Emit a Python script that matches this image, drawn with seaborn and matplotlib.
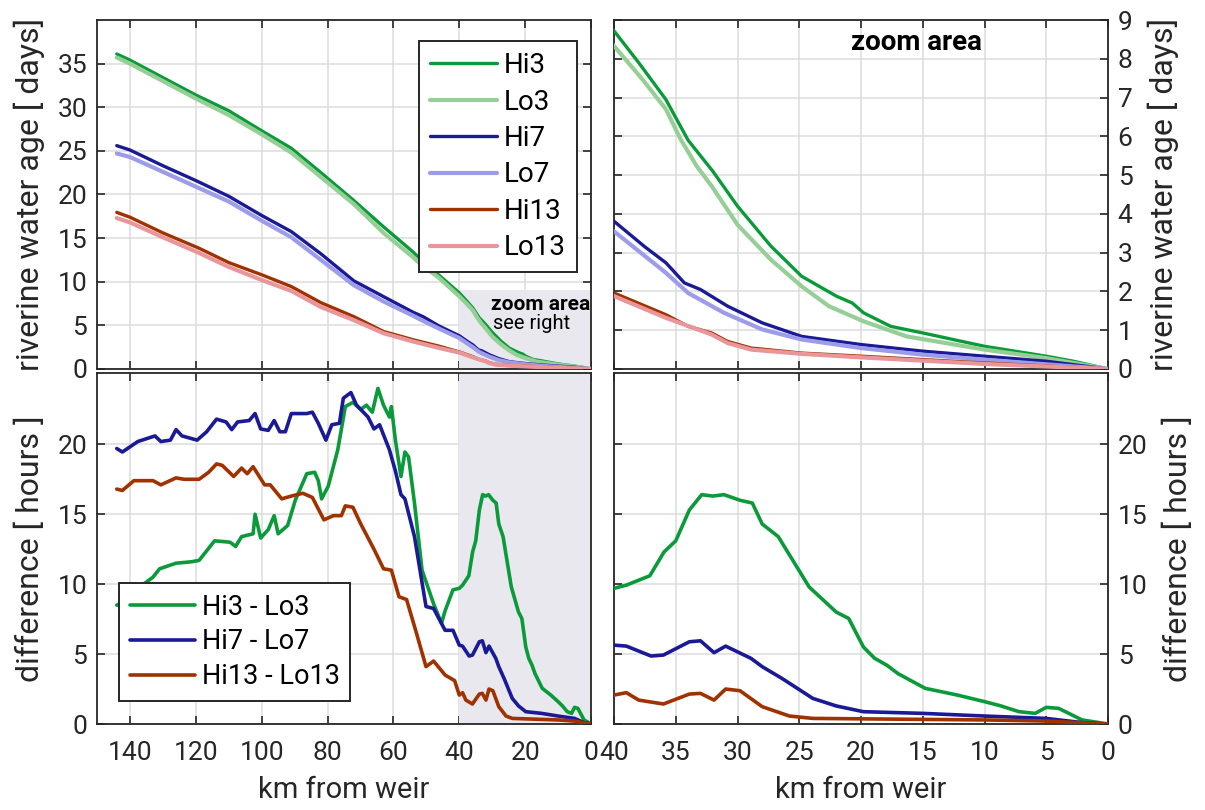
import numpy as np
import pandas as pd
import matplotlib
matplotlib.use("Agg")
import matplotlib.pyplot as plt
import seaborn as sns

# ---------------- data ----------------
# riverine water age [days] vs km from weir
hi3_km = [144, 140, 130, 120, 110, 100, 91, 82, 72, 63, 54, 51, 46, 40, 38, 35.8, 34, 32, 30, 27.3, 24.8, 22, 20.7, 19.8, 17.6, 15, 10, 5, 2.8, 0]
hi3_age = [36.1, 35.4, 33.4, 31.4, 29.6, 27.3, 25.3, 22.5, 19.3, 16.3, 13.4, 12.3, 10.7, 8.72, 7.9, 6.95, 5.9, 5.1, 4.2, 3.17, 2.39, 1.88, 1.70, 1.45, 1.10, 0.93, 0.585, 0.33, 0.2, 0.0]

lo3_km = [144, 140, 130, 120, 110, 100, 91, 82, 72, 63, 54, 52, 46, 40, 37.7, 35.8, 34.6, 33.3, 32.1, 30, 27.3, 24.8, 22.6, 19.8, 16.3, 10, 5, 0]
lo3_age = [35.7, 35.0, 33.0, 31.0, 29.1, 26.9, 24.8, 22.0, 18.9, 15.6, 12.8, 12.1, 10.4, 8.33, 7.47, 6.7, 5.92, 5.23, 4.72, 3.72, 2.82, 2.13, 1.62, 1.23, 0.84, 0.5, 0.28, 0.0]

hi7_km = [144, 140, 130, 120, 110, 100, 91, 82, 72, 63, 54, 51, 46, 40, 37.5, 35.8, 34.3, 33, 30.8, 28, 24.8, 20, 15, 10, 5, 0]
hi7_age = [25.6, 25.1, 23.3, 21.6, 19.8, 17.6, 15.75, 13.2, 10.1, 8.3, 6.5, 6.0, 4.9, 3.81, 3.15, 2.74, 2.22, 2.05, 1.62, 1.19, 0.84, 0.63, 0.46, 0.33, 0.2, 0.0]

lo7_km = [144, 140, 130, 120, 110, 100, 91, 82, 72, 63, 54, 52, 46, 40, 35.8, 34, 31.1, 28, 24.8, 20, 15, 10, 5, 0]
lo7_age = [24.7, 24.3, 22.6, 20.9, 19.2, 17.0, 15.1, 12.5, 9.6, 7.74, 6.1, 5.7, 4.6, 3.55, 2.48, 1.96, 1.45, 1.02, 0.76, 0.54, 0.37, 0.24, 0.12, 0.0]

hi13_km = [144, 140, 130, 119, 110, 100, 91, 82, 72, 63, 54, 46, 40, 35.8, 34, 32.1, 30.8, 28.9, 24.8, 20, 10, 0]
hi13_age = [17.95, 17.4, 15.6, 13.84, 12.2, 10.8, 9.45, 7.6, 6.0, 4.3, 3.35, 2.6, 1.96, 1.40, 1.10, 0.93, 0.71, 0.54, 0.41, 0.33, 0.155, 0.0]

lo13_km = [144, 140, 130, 119, 110, 100, 91, 82, 72, 63, 54, 46, 40, 35.8, 32.1, 30.8, 28.9, 24.8, 20, 10, 0]
lo13_age = [17.3, 16.8, 15.1, 13.3, 11.7, 10.2, 8.95, 7.1, 5.6, 4.1, 3.15, 2.4, 1.88, 1.32, 0.89, 0.67, 0.50, 0.39, 0.30, 0.13, 0.0]

# difference [hours]
d3_km = [144, 143, 140, 137, 133, 131, 126, 121.3, 119, 114.3, 109.6, 107.9, 106.1, 102.6, 102, 100.3, 98, 96.2, 95, 92.1,
         89.8, 86.3, 83.9, 82.8, 81.8, 79.8, 76.9, 74.6, 72.3, 69.9, 68.2, 66.4, 64.7, 63, 61.2, 60.6, 59.4, 57.7, 56.5,
         55.4, 53.6, 51.3, 47.8, 45.4, 44.3, 41.9, 40, 39, 37.1, 35.95, 35, 33.9, 32.9, 32, 31.1, 29.8, 28.8, 28, 26.7,
         24.2, 22, 21, 19.8, 18.9, 17.9, 17, 14.8, 12.2, 10, 8.7, 7.2, 5.9, 5, 4, 2.1, 0]
d3_hr = [8.5, 8.6, 9.2, 9.8, 10.5, 11.1, 11.5, 11.6, 11.7, 13.1, 13.0, 12.7, 13.4, 13.6, 15.0, 13.3, 13.9, 14.9, 13.6, 14.2,
         16.0, 17.9, 18.0, 17.4, 16.1, 17.0, 19.6, 22.7, 23.0, 22.5, 22.8, 22.3, 24.0, 22.8, 21.95, 22.7, 20.3, 17.7, 19.45,
         19.1, 15.8, 11.0, 8.6, 7.2, 8.1, 9.6, 9.7, 9.93, 10.6, 12.3, 13.1, 15.3, 16.4, 16.3, 16.4, 16.0, 15.8, 14.3, 13.4,
         9.8, 8.0, 7.55, 5.5, 4.7, 4.2, 3.6, 2.55, 2.07, 1.6, 1.3, 0.88, 0.76, 1.19, 1.12, 0.29, 0.0]

d7_km = [144, 142.3, 137.6, 132.4, 130.6, 127.7, 126, 124.2, 119.6, 116.7, 113.7, 110.8, 109.1, 107.3, 103.8, 102, 100.3,
         98, 96.2, 94.5, 92.8, 91, 86.3, 84.6, 82.8, 80.5, 78.7, 76.4, 75.2, 72.9, 71.2, 67.7, 65.9, 64.2, 61.2, 59.4, 57.7,
         56.5, 53.6, 50.1, 47.8, 44.3, 41.9, 40, 39, 37, 36, 33.9, 33, 31.9, 30.96, 28.9, 28, 26.4, 23.9, 22, 19.8, 15, 10,
         5, 2.1, 0]
d7_hr = [19.7, 19.45, 20.2, 20.6, 20.2, 20.3, 21.05, 20.6, 20.3, 20.9, 21.8, 21.6, 21.05, 21.6, 21.7, 22.2, 21.1,
         21.0, 21.7, 20.9, 20.9, 22.2, 22.2, 22.3, 21.5, 20.3, 21.4, 21.5, 23.3, 23.7, 22.8, 21.95, 21.1, 21.4, 19.6, 18.1,
         16.4, 16.1, 13.4, 8.4, 8.26, 6.7, 6.7, 5.64, 5.57, 4.86, 4.93, 5.88, 5.95, 5.1, 5.57, 4.69, 4.1, 3.26, 1.83, 1.29,
         0.88, 0.76, 0.57, 0.4, 0.1, 0.0]

d13_km = [144, 142.3, 138.8, 133, 130.6, 126, 123.6, 119, 116.1, 113.7, 112, 108.5, 106.1, 104.4, 102.6, 99.1, 97.4, 93.9,
          91, 87.5, 84.6, 81.1, 78.2, 75.8, 74.6, 72.3, 69.9, 65.9, 63, 60.6, 58.3, 56, 53, 50.1, 47.8, 44.3, 41.4, 40,
          39, 38, 36, 33.9, 33, 31.9, 30.96, 29.8, 28, 25.8, 23.9, 10, 5, 0]
d13_hr = [16.8, 16.7, 17.4, 17.4, 17.1, 17.6, 17.5, 17.5, 18.0, 18.6, 18.5, 17.7, 18.3, 17.9, 18.4, 17.1, 17.1, 16.1,
          16.3, 16.5, 16.2, 14.6, 14.9, 14.9, 15.6, 15.5, 14.3, 12.5, 11.1, 11.0, 9.1, 8.9, 6.5, 4.1, 4.5, 3.5, 3.1, 2.07,
          2.24, 1.71, 1.43, 2.14, 2.19, 1.71, 2.5, 2.38, 1.24, 0.57, 0.40, 0.29, 0.21, 0.0]

age_names = ["Hi3", "Lo3", "Hi7", "Lo7", "Hi13", "Lo13"]
diff_names = ["Hi3 - Lo3", "Hi7 - Lo7", "Hi13 - Lo13"]
left_xticks = [140, 120, 100, 80, 60, 40, 20, 0]
right_xticks = [40, 35, 30, 25, 20, 15, 10, 5, 0]
left_age_yticks = [0, 5, 10, 15, 20, 25, 30, 35]
right_age_yticks = [0, 1, 2, 3, 4, 5, 6, 7, 8, 9]
diff_yticks = [0, 5, 10, 15, 20]

age_series = [(hi3_km, hi3_age), (lo3_km, lo3_age), (hi7_km, hi7_age),
              (lo7_km, lo7_age), (hi13_km, hi13_age), (lo13_km, lo13_age)]
diff_series = [(d3_km, d3_hr), (d7_km, d7_hr), (d13_km, d13_hr)]

age_colors = ["#0b9a3a", "#96cf96", "#1a1a96", "#9c9ce8", "#a03200", "#e8969a"]
age_lw = [2.4, 3.0, 2.4, 3.0, 2.4, 3.0]
diff_colors = ["#0b9a3a", "#1a1a96", "#a03200"]

# ---------------- style ----------------
sns.set_theme(style="white")
plt.rcParams['font.family'] = ['Roboto', 'DejaVu Sans']
TXT = '#262626'

W, H = 1205, 810
fig = plt.figure(figsize=(W / 100, H / 100), dpi=100)


def ax_at(x0, y0, x1, y1):
    return fig.add_axes([x0 / W, 1 - y1 / H, (x1 - x0) / W, (y1 - y0) / H])


ax_tl = ax_at(97, 20, 591, 369)
ax_bl = ax_at(97, 373, 591, 724)
ax_tr = ax_at(614, 20, 1108, 369)
ax_br = ax_at(614, 373, 1108, 724)


def style(ax, right=False, xlabels=True):
    ax.grid(True, color='#dcdcdc', lw=1.1)
    ax.set_axisbelow(True)
    ax.set_facecolor('white')
    for s in ax.spines.values():
        s.set_visible(True)
        s.set_color(TXT)
        s.set_linewidth(1.3)
    ax.tick_params(axis='both', direction='in', length=6, width=1.2, color=TXT,
                   top=True, bottom=True, left=True, right=True,
                   labelsize=19, labelcolor=TXT)
    ax.tick_params(axis='x', pad=12)
    ax.tick_params(axis='y', pad=7)
    if right:
        ax.tick_params(labelleft=False, labelright=True)
        ax.yaxis.set_label_position('right')
    if not xlabels:
        ax.tick_params(labelbottom=False)


for ax, xl, right in [(ax_tl, False, False), (ax_bl, True, False), (ax_tr, False, True), (ax_br, True, True)]:
    style(ax, right=right, xlabels=xl)

# shaded zoom areas
ax_tl.fill_between([40, 0], 0, 9, color='#e8e8ee', lw=0, zorder=1)
ax_bl.fill_between([40, 0], 0, 30, color='#e8e8ee', lw=0, zorder=1)

# age lines
for (km, v), name, c, lw in zip(age_series, age_names, age_colors, age_lw):
    df = pd.DataFrame({"km": km, "age": v})
    sns.lineplot(data=df, x="km", y="age", ax=ax_tl, color=c, lw=lw, label=name,
                 estimator=None, sort=False, zorder=3)
    sns.lineplot(data=df, x="km", y="age", ax=ax_tr, color=c, lw=lw, legend=False,
                 estimator=None, sort=False, zorder=3)

for (km, v), name, c in zip(diff_series, diff_names, diff_colors):
    df = pd.DataFrame({"km": km, "diff": v})
    sns.lineplot(data=df, x="km", y="diff", ax=ax_bl, color=c, lw=2.6, label=name,
                 estimator=None, sort=False, zorder=3)
    sns.lineplot(data=df, x="km", y="diff", ax=ax_br, color=c, lw=2.6, legend=False,
                 estimator=None, sort=False, zorder=3)

# limits & ticks
ax_tl.set_xlim(150, 0); ax_bl.set_xlim(150, 0)
ax_tr.set_xlim(40, 0); ax_br.set_xlim(40, 0)
ax_tl.set_ylim(0, 40); ax_tr.set_ylim(0, 9)
ax_bl.set_ylim(0, 25.1); ax_br.set_ylim(0, 25.1)
for ax in (ax_tl, ax_bl):
    ax.set_xticks(left_xticks)
for ax in (ax_tr, ax_br):
    ax.set_xticks(right_xticks)
ax_tl.set_yticks(left_age_yticks)
ax_tr.set_yticks(right_age_yticks)
ax_bl.set_yticks(diff_yticks)
ax_br.set_yticks(diff_yticks)

# labels
ylab = dict(fontsize=23, color=TXT)
xlab = dict(fontsize=21, color=TXT)
ax_tl.set_ylabel("riverine water age [ days]", labelpad=9, **ylab)
ax_tr.set_ylabel("riverine water age [ days]", labelpad=11, **ylab)
ax_bl.set_ylabel("difference [ hours ]", labelpad=9, **ylab)
ax_br.set_ylabel("difference [ hours ]", labelpad=11, **ylab)
for ax in (ax_tl, ax_tr):
    ax.set_xlabel("")
ax_bl.set_xlabel("km from weir", labelpad=8, **xlab)
ax_br.set_xlabel("km from weir", labelpad=8, **xlab)

# annotations
ax_tl.text(30.4, 6.75, "zoom area", fontsize=15, fontweight='bold', color='black',
           ha='left', va='baseline', clip_on=True, zorder=4)
ax_tl.text(29.8, 4.6, "see right", fontsize=14.5, color='black',
           ha='left', va='baseline', clip_on=True, zorder=4)
ax_tr.text(15.5, 8.43, "zoom area", fontsize=20, fontweight='bold', color='black',
           ha='center', va='center', zorder=4)

# legends
leg_kw = dict(frameon=True, fancybox=False, framealpha=1, edgecolor=TXT,
              handlelength=2.4, handletextpad=0.25, borderpad=0.4, borderaxespad=0,
              bbox_transform=fig.transFigure)
l1 = ax_tl.legend(loc='upper right', bbox_to_anchor=(577 / W, 1 - 41 / H), labelspacing=0.34,
                  fontsize=20, **leg_kw)
l2 = ax_bl.legend(loc='upper left', bbox_to_anchor=(119 / W, 1 - 583 / H), labelspacing=0.28,
                  fontsize=19.5, **leg_kw)
for l in (l1, l2):
    l.get_frame().set_linewidth(1.4)
    l.set_zorder(10)
    for t in l.get_texts():
        t.set_color('black')

fig.savefig("out.png", dpi=100)
